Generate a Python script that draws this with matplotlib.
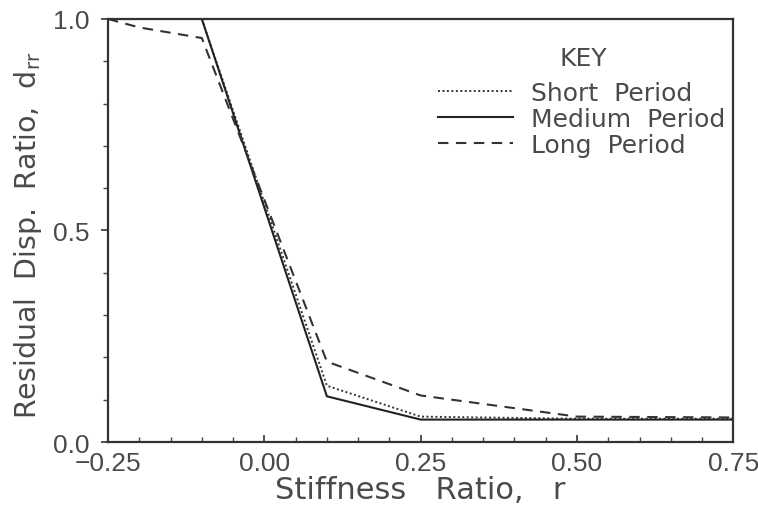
import matplotlib
matplotlib.use("Agg")
import matplotlib.pyplot as plt
from matplotlib.ticker import MultipleLocator, FuncFormatter

# stiffness ratio r and residual displacement ratio d_rr per period band
r = [-0.25, -0.20, -0.10, 0.10, 0.25, 0.50, 0.75]
short_period = [1.0, 1.0, 1.0, 0.133, 0.06, 0.055, 0.055]
medium_period = [1.0, 1.0, 1.0, 0.108, 0.053, 0.053, 0.053]
long_period = [1.0, 0.98, 0.955, 0.19, 0.11, 0.06, 0.058]

# numbers in Liberation Sans, words in DejaVu Sans
plt.rcParams['font.family'] = ['Liberation Sans', 'DejaVu Sans']
plt.rcParams['mathtext.fontset'] = 'dejavusans'
word_font = 'DejaVu Sans'
txt = '#4a4a4a'

fig = plt.figure(figsize=(7.58, 5.06), dpi=100)
ax = fig.add_axes([0.1425, 0.1245, 0.825, 0.836])

ax.plot(r, short_period, color='#333333', lw=1.4, ls=(0, (1, 1.3)), label='Short  Period')
ax.plot(r, medium_period, color='#222222', lw=1.5, ls='-', label='Medium  Period')
ax.plot(r, long_period, color='#333333', lw=1.5, ls=(0, (5, 3.6)), label='Long  Period')

ax.set_xlim(-0.25, 0.75)
ax.set_ylim(0.0, 1.0)
ax.xaxis.set_major_locator(MultipleLocator(0.25))
ax.xaxis.set_minor_locator(MultipleLocator(0.05))
ax.yaxis.set_major_locator(MultipleLocator(0.5))
ax.yaxis.set_minor_locator(MultipleLocator(0.1))
ax.xaxis.set_major_formatter(FuncFormatter(lambda v, p: f'{v:.2f}'.replace('-', '\u2212')))
ax.yaxis.set_major_formatter(FuncFormatter(lambda v, p: f'{v:.1f}'))

for s in ax.spines.values():
    s.set_linewidth(1.6)
    s.set_color('#333333')

ax.tick_params(axis='x', which='both', direction='in', labelsize=19, labelcolor=txt, pad=6.5)
ax.tick_params(axis='y', which='both', direction='out', labelsize=19, labelcolor=txt, pad=8.5)
ax.tick_params(which='major', length=5, width=1.2, color='#333333')
ax.tick_params(which='minor', length=3.5, width=1.0, color='#444444')

ax.set_xlabel('Stiffness   Ratio,   r', fontsize=22, color=txt, labelpad=0, family=word_font)
ax.set_ylabel('Residual  Disp.  Ratio,  d$_{\\mathrm{rr}}$', fontsize=20.5, color=txt,
              family=word_font, va='center')
ax.yaxis.set_label_coords(-0.128, 0.49)

# legend box: "KEY" heading above the three line samples
ax.text(0.76, 0.908, 'KEY', transform=ax.transAxes, ha='center', va='center',
        fontsize=18, color=txt, family=word_font)
leg = ax.legend(loc='upper right', bbox_to_anchor=(0.987, 0.853), frameon=False,
                prop={'family': word_font, 'size': 18}, handlelength=3.0,
                handletextpad=0.72, labelspacing=0.07, borderaxespad=0.0, borderpad=0.0)
for t in leg.get_texts():
    t.set_color(txt)

fig.savefig('out.png', dpi=100)
